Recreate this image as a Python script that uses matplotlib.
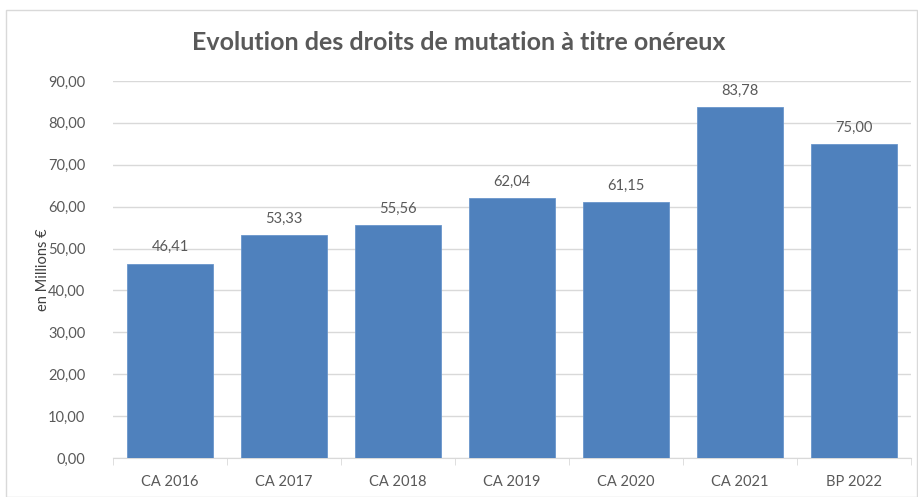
import matplotlib.pyplot as plt
from matplotlib.patches import Rectangle

# data
categories = ['CA 2016', 'CA 2017', 'CA 2018', 'CA 2019', 'CA 2020', 'CA 2021', 'BP 2022']
values = [46.41, 53.33, 55.56, 62.04, 61.15, 83.78, 75.00]

plt.rcParams['font.family'] = ['Lato', 'DejaVu Sans']
txt = '#595959'

fig = plt.figure(figsize=(9.18, 4.97), dpi=100)
fig.patches.append(Rectangle((6/918, 0), 911/918, 487/497, transform=fig.transFigure,
                             fill=False, edgecolor='#d9d9d9', lw=1))

ax = fig.add_axes([113/918, 1 - 458/497, 798/918, (458 - 81)/497])
x = range(len(categories))
bars = ax.bar(x, values, width=0.75, color='#4f81bd', edgecolor='#6a96cc', lw=0.6, zorder=3)

for xi, v in zip(x, values):
    ax.text(xi, v + 2.2, f'{v:.2f}'.replace('.', ','), ha='center', va='bottom',
            fontsize=10.5, color=txt)

ax.set_xlim(-0.5, len(categories) - 0.5)
ax.set_ylim(0, 90)
ax.set_yticks(range(0, 91, 10))
ax.set_yticklabels([f'{t},00' for t in range(0, 91, 10)], fontsize=10.5, color=txt)
ax.set_xticks(list(x))
ax.set_xticklabels(categories, fontsize=10.5, color=txt)
ax.set_xticks([i - 0.5 for i in range(len(categories) + 1)], minor=True)
ax.tick_params(axis='x', which='major', length=0, pad=12)
ax.tick_params(axis='x', which='minor', length=5, color='#d9d9d9')
ax.tick_params(axis='y', length=0, pad=20)

ax.grid(axis='y', color='#d9d9d9', lw=1, zorder=0)
for s in ['top', 'right', 'left']:
    ax.spines[s].set_visible(False)
ax.spines['bottom'].set_color('#d9d9d9')

ax.set_ylabel('en Millions €', fontsize=10.5, color='#404040')
ax.yaxis.set_label_coords(-0.079, 0.5)

fig.text(0.5, 1 - 42/497, 'Evolution des droits de mutation à titre onéreux',
         ha='center', va='center', fontsize=18, fontweight='bold', color=txt)

fig.savefig('out.png', dpi=100)
